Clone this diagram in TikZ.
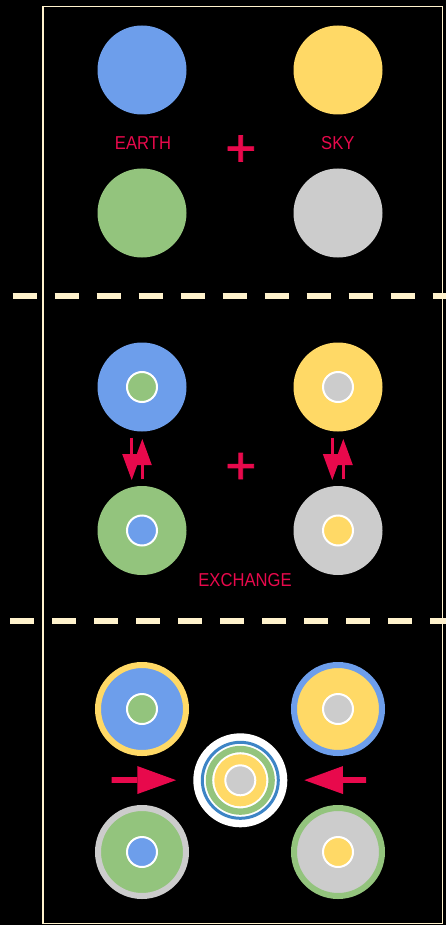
\documentclass[tikz,border=0pt]{standalone}
\usepackage{fontspec}
\setmainfont[FakeStretch=0.89]{Liberation Sans}
\newfontfamily\plusfont[FakeBold=1.5]{Liberation Sans}
\usetikzlibrary{arrows.meta}
\definecolor{cblue}{HTML}{6D9EEB}
\definecolor{cyellow}{HTML}{FFD966}
\definecolor{cgreen}{HTML}{93C47D}
\definecolor{cgray}{HTML}{CCCCCC}
\definecolor{cred}{HTML}{E8094C}
\definecolor{cdblue}{HTML}{3D85C6}
\definecolor{ccream}{HTML}{FFF2CC}
\begin{document}
\begin{tikzpicture}[x=1pt,y=-1pt,
  disc/.style={circle, inner sep=0pt, outer sep=0pt, minimum size=89pt, fill=#1},
  ring/.style 2 args={circle, inner sep=0pt, outer sep=0pt, minimum size=88pt, fill=#1, draw=#2, line width=6pt},
  core/.style={circle, inner sep=0pt, outer sep=0pt, minimum size=30pt, fill=#1, draw=white, line width=2pt},
  band/.style 2 args={circle, inner sep=0pt, outer sep=0pt, minimum size=#2, draw=#1},
  lbl/.style={text=cred, inner sep=0pt, anchor=base, font=\fontsize{18.67pt}{22pt}\selectfont},
  plussign/.style={text=cred, inner sep=0pt, anchor=base, font=\plusfont\fontsize{53pt}{60pt}\selectfont},
  swaparrow/.style={draw=cred, line width=3.3pt, -{Triangle[length=26pt, width=19pt, line width=0pt]}},
  pusharrow/.style={draw=cred, line width=5.7pt, -{Triangle[length=38.7pt, width=28pt, line width=0pt]}},
  separator/.style={draw=ccream, line width=6pt, dash pattern=on 24pt off 18pt},
]
\fill[black] (0,0) rectangle (446,925);
\useasboundingbox (0,0) rectangle (446,925);

% separators
\draw[separator] (12.7,295.7) -- (470,295.7);
\draw[separator] (10,620.7) -- (470,620.7);
% frame
\draw[ccream, line width=1.2pt] (43,6.2) rectangle (442.8,923.6);

% top section
\node[disc=cblue] (earth) at (142,70) {};
\node[disc=cyellow] (sky) at (338,70) {};
\node[disc=cgreen] (earthb) at (142,213) {};
\node[disc=cgray] (skyb) at (338,213) {};
\node[lbl] (lbearth) at (143,149.3) {EARTH};
\node[lbl] (lbsky) at (337.8,149.3) {SKY};
\node[plussign] (plusa) at (240.8,166.2) {+};

% middle section
\node[disc=cblue] (mb) at (142,387) {};
\node[core=cgreen] (mbc) at (142,387) {};
\node[disc=cyellow] (my) at (338,387) {};
\node[core=cgray] (myc) at (338,387) {};
\node[disc=cgreen] (mg) at (142,530.5) {};
\node[core=cblue] (mgc) at (142,530.5) {};
\node[disc=cgray] (mr) at (338,530.5) {};
\node[core=cyellow] (mrc) at (338,530.5) {};
\node[plussign] (plusb) at (240.8,483.7) {+};
\node[lbl] (lbex) at (245,586.7) {EXCHANGE};

\draw[swaparrow, shorten <=6.2pt, shorten >=6pt] ([xshift=-10.3pt]mb.south) -- ([xshift=-10.3pt]mg.north);
\draw[swaparrow, shorten <=6.7pt, shorten >=7.5pt] ([xshift=0.3pt]mg.north) -- ([xshift=0.3pt]mb.south);
\draw[swaparrow, shorten <=6.2pt, shorten >=6pt] ([xshift=-5.7pt]my.south) -- ([xshift=-5.7pt]mr.north);
\draw[swaparrow, shorten <=6.7pt, shorten >=7.5pt] ([xshift=5.3pt]mr.north) -- ([xshift=5.3pt]my.south);

% bottom section
\node[ring={cblue}{cyellow}] (bb) at (142,709) {};
\node[core=cgreen] (bbc) at (142,709) {};
\node[ring={cyellow}{cblue}] (by) at (338,709) {};
\node[core=cgray] (byc) at (338,709) {};
\node[ring={cgreen}{cgray}] (bg) at (142,852) {};
\node[core=cblue] (bgc) at (142,852) {};
\node[ring={cgray}{cgreen}] (br) at (338,852) {};
\node[core=cyellow] (brc) at (338,852) {};

\node[circle, inner sep=0pt, outer sep=0pt, minimum size=94pt, fill=white] (tgt) at (240.3,780.3) {};
\node[band={cdblue}{76pt}, line width=3pt] (tblue) at (240.3,780.3) {};
\node[band={cgreen}{62.6pt}, line width=6.4pt] (tgreen) at (240.3,780.3) {};
\node[circle, inner sep=0pt, outer sep=0pt, minimum size=52pt, fill=cyellow] (tyellow) at (240.3,780.3) {};
\node[core=cgray] (tgray) at (240.3,780.3) {};

\coordinate (lstart) at (111.7,780);
\coordinate (rstart) at (366,780);
\draw[pusharrow, shorten >=17.3pt] (lstart) -- (tgt);
\draw[pusharrow, shorten >=17pt] (rstart) -- (tgt);
\end{tikzpicture}
\end{document}
